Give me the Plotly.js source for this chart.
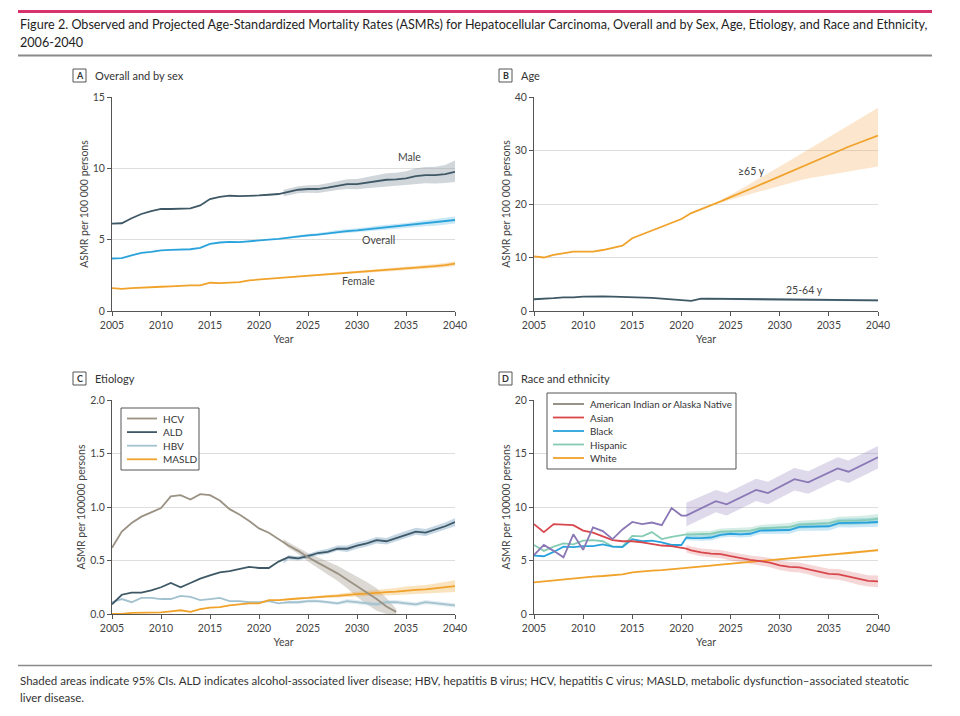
<!DOCTYPE html>
<html>
<head>
<meta charset="utf-8">
<script src="https://cdn.plot.ly/plotly-3.0.1.min.js"></script>
<style>html,body{margin:0;padding:0;background:#fff;}#chart{width:960px;height:716px;}</style>
</head>
<body>
<div id="chart"></div>
<script>
// ---------------- DATA ----------------
const YEARS = [2005,2006,2007,2008,2009,2010,2011,2012,2013,2014,2015,2016,2017,2018,2019,2020,2021,2022,2023,2024,2025,2026,2027,2028,2029,2030,2031,2032,2033,2034,2035,2036,2037,2038,2039,2040];

// Panel A: overall and by sex
const maleRate    = [6.12,6.15,6.5,6.8,7.0,7.15,7.15,7.18,7.2,7.4,7.85,8.0,8.08,8.05,8.05,8.1,8.15,8.2,8.35,8.5,8.55,8.55,8.65,8.8,8.9,8.9,9.0,9.12,9.2,9.22,9.3,9.45,9.52,9.52,9.6,9.75];
const overallRate = [3.68,3.7,3.9,4.08,4.15,4.25,4.28,4.3,4.33,4.42,4.7,4.8,4.85,4.83,4.9,4.95,5.0,5.05,5.15,5.25,5.3,5.35,5.45,5.55,5.6,5.65,5.72,5.82,5.87,5.92,5.98,6.08,6.15,6.2,6.28,6.38];
const femaleRate  = [1.6,1.55,1.6,1.65,1.68,1.7,1.73,1.78,1.8,1.8,1.98,1.95,2.0,2.03,2.15,2.2,2.3,2.33,2.38,2.43,2.48,2.53,2.58,2.63,2.68,2.73,2.78,2.83,2.88,2.93,2.98,3.03,3.08,3.15,3.22,3.32];
const BAND_YEARS = [2022.5,2023,2024,2025,2026,2027,2028,2029,2030,2031,2032,2033,2034,2035,2036,2037,2038,2039,2040];
const maleLo    = [8.05,8.12,8.25,8.28,8.27,8.35,8.48,8.56,8.54,8.6,8.7,8.75,8.75,8.8,8.9,8.95,8.93,8.97,9.05];
const maleHi    = [8.5,8.58,8.75,8.82,8.83,8.95,9.12,9.24,9.26,9.4,9.54,9.65,9.69,9.8,10.0,10.09,10.11,10.23,10.55];
const overallLo = [5.04,5.08,5.17,5.21,5.25,5.34,5.43,5.47,5.51,5.57,5.66,5.7,5.74,5.79,5.88,5.94,5.98,6.05,6.14];
const overallHi = [5.16,5.22,5.33,5.39,5.45,5.56,5.67,5.73,5.79,5.87,5.98,6.04,6.1,6.17,6.28,6.36,6.42,6.51,6.62];
const femaleLo  = [2.31,2.33,2.38,2.42,2.46,2.51,2.55,2.6,2.64,2.68,2.73,2.77,2.81,2.86,2.9,2.94,3.01,3.07,3.16];
const femaleHi  = [2.39,2.43,2.48,2.54,2.6,2.65,2.71,2.76,2.82,2.88,2.93,2.99,3.05,3.1,3.16,3.22,3.29,3.37,3.48];

// Panel B: age
const age65Rate = [10.2,10.0,10.5,10.8,11.1,11.1,11.1,11.4,11.8,12.2,13.6,14.3,15.1,15.7,16.5,17.2,18.3,19.0,19.7,20.5,21.3,22.0,22.8,23.6,24.4,25.2,26.0,26.8,27.6,28.4,29.1,29.9,30.7,31.4,32.1,32.8];
const age25Rate = [2.2,2.25,2.4,2.55,2.55,2.7,2.75,2.75,2.7,2.65,2.65,2.6,2.45,2.3,2.2,2.1,1.9,2.3,2.28,2.27,2.25,2.24,2.22,2.21,2.2,2.18,2.16,2.15,2.13,2.12,2.1,2.08,2.06,2.04,2.02,2.0];
const BAND_65_YEARS = [2024,2025,2026,2027,2028,2029,2030,2031,2032,2033,2034,2035,2036,2037,2038,2039,2040];
const age65Lo = [20.3,20.8,21.3,21.8,22.4,22.9,23.4,23.9,24.4,24.8,25.2,25.5,25.8,26.1,26.4,26.7,27.0];
const age65Hi = [20.7,21.7,22.7,23.8,24.9,25.9,27.0,28.1,29.2,30.3,31.4,32.5,33.6,34.7,35.8,36.9,38.0];
const age25Lo = [2.08,2.06,2.05,2.03,2.02,2.0,1.99,1.98,1.96,1.94,1.93,1.91,1.9,1.88,1.86,1.84,1.82,1.8,1.78];
const age25Hi = [2.5,2.48,2.47,2.45,2.44,2.42,2.41,2.4,2.38,2.36,2.35,2.33,2.32,2.3,2.28,2.26,2.24,2.22,2.2];

// Panel C: etiology
const hcvRate   = [0.62,0.77,0.85,0.91,0.95,0.99,1.10,1.11,1.07,1.12,1.11,1.06,0.98,0.93,0.87,0.80,0.76,0.70,0.64,0.59,0.53,0.48,0.43,0.38,0.32,0.26,0.20,0.14,0.07,0.02,null,null,null,null,null,null];
const aldRate   = [0.09,0.18,0.20,0.20,0.22,0.25,0.29,0.25,0.29,0.33,0.36,0.39,0.40,0.42,0.44,0.43,0.43,0.49,0.53,0.52,0.54,0.57,0.58,0.61,0.61,0.64,0.66,0.69,0.68,0.71,0.74,0.77,0.76,0.79,0.82,0.86];
const hbvRate   = [0.11,0.14,0.11,0.15,0.15,0.14,0.14,0.17,0.16,0.13,0.14,0.15,0.12,0.12,0.11,0.11,0.12,0.10,0.11,0.11,0.12,0.12,0.11,0.10,0.12,0.11,0.10,0.09,0.11,0.11,0.10,0.09,0.11,0.10,0.09,0.08];
const masldRate = [0.0,0.0,0.01,0.01,0.01,0.015,0.025,0.035,0.02,0.045,0.06,0.065,0.08,0.09,0.10,0.10,0.13,0.13,0.14,0.145,0.15,0.16,0.165,0.17,0.18,0.185,0.19,0.20,0.205,0.21,0.22,0.225,0.23,0.24,0.25,0.26];
const BAND_HCV_YEARS = [2022.5,2023,2024,2025,2026,2027,2028,2029,2030,2031,2032,2033,2034];
const hcvLo = [0.66,0.62,0.56,0.49,0.43,0.37,0.31,0.24,0.16,0.09,0.03,0.0,0.0];
const hcvHi = [0.70,0.67,0.62,0.57,0.53,0.49,0.45,0.40,0.35,0.30,0.24,0.15,0.05];
const aldLo   = [0.47,0.51,0.50,0.52,0.55,0.56,0.59,0.58,0.61,0.63,0.66,0.65,0.68,0.71,0.74,0.73,0.76,0.79,0.82];
const aldHi   = [0.51,0.55,0.54,0.56,0.59,0.61,0.64,0.64,0.67,0.69,0.72,0.71,0.745,0.775,0.805,0.795,0.825,0.855,0.895];
const hbvLo   = [0.09,0.095,0.095,0.105,0.105,0.095,0.085,0.10,0.09,0.08,0.07,0.09,0.09,0.08,0.07,0.09,0.08,0.07,0.06];
const hbvHi   = [0.11,0.125,0.125,0.135,0.135,0.125,0.115,0.14,0.13,0.12,0.11,0.13,0.13,0.12,0.11,0.13,0.12,0.11,0.10];
const masldLo = [0.125,0.133,0.137,0.14,0.148,0.151,0.154,0.161,0.163,0.166,0.172,0.174,0.177,0.182,0.185,0.188,0.194,0.2,0.205];
const masldHi = [0.135,0.147,0.153,0.16,0.172,0.179,0.186,0.199,0.207,0.214,0.228,0.236,0.243,0.258,0.265,0.272,0.286,0.3,0.315];

// Panel D: race and ethnicity
const OBS_D_YEARS  = [2005,2006,2007,2008,2009,2010,2011,2012,2013,2014,2015,2016,2017,2018,2019,2020];
const PROJ_D_YEARS = [2020.5,2021,2022,2023,2024,2025,2026,2027,2028,2029,2030,2031,2032,2033,2034,2035,2036,2037,2038,2039,2040];
const AIAN_PROJ_YEARS = [2020.5,2023.5,2024.6,2027.6,2028.8,2031.5,2032.9,2035.9,2037.0,2040];
const aianObs = [5.5,6.45,5.9,5.3,7.45,6.0,8.1,7.75,7.0,7.9,8.6,8.4,8.55,8.3,9.9,9.2];
const aianProj = [9.2,10.55,10.25,11.6,11.3,12.6,12.3,13.6,13.3,14.65];
const aianLo = [8.2,9.5,9.2,10.55,10.25,11.55,11.25,12.55,12.25,13.6];
const aianHi = [10.4,11.6,11.3,12.65,12.35,13.65,13.35,14.65,14.35,15.7];
const asianObs = [8.4,7.65,8.4,8.35,8.3,7.8,7.6,7.25,6.9,6.8,6.8,6.7,6.55,6.4,6.35,6.2];
const asianProj = [6.1,5.95,5.75,5.65,5.6,5.4,5.2,5.05,4.95,4.8,4.55,4.4,4.35,4.15,3.9,3.75,3.7,3.5,3.25,3.1,3.05];
const asianLo = [5.75,5.6,5.39,5.28,5.22,5.01,4.8,4.64,4.53,4.37,4.11,3.95,3.89,3.68,3.42,3.26,3.2,2.99,2.73,2.57,2.5];
const asianHi = [6.45,6.3,6.11,6.02,5.98,5.79,5.6,5.46,5.37,5.23,4.99,4.85,4.81,4.62,4.38,4.24,4.2,4.01,3.77,3.63,3.6];
const blackObs = [5.45,5.4,5.8,6.3,6.25,6.35,6.35,6.5,6.3,6.25,7.0,6.8,6.85,6.7,6.45,6.45];
const blackProj = [7.15,7.1,7.1,7.15,7.4,7.5,7.45,7.5,7.8,7.8,7.8,7.85,8.15,8.15,8.15,8.2,8.5,8.5,8.5,8.55,8.6];
const blackLo = [6.9,6.85,6.84,6.88,7.12,7.21,7.15,7.19,7.48,7.47,7.46,7.5,7.79,7.78,7.77,7.81,8.1,8.09,8.08,8.12,8.16];
const blackHi = [7.4,7.35,7.36,7.42,7.68,7.79,7.75,7.81,8.12,8.13,8.14,8.2,8.51,8.52,8.53,8.59,8.9,8.91,8.92,8.98,9.04];
const hispObs = [6.45,5.9,6.3,6.6,6.5,6.85,6.9,6.8,6.3,6.3,7.3,7.25,7.65,7.0,7.2,7.4];
const hispProj = [7.45,7.45,7.45,7.5,7.7,7.75,7.75,7.8,8.0,8.05,8.1,8.15,8.35,8.4,8.45,8.5,8.7,8.7,8.75,8.8,8.9];
const hispLo = [7.2,7.2,7.19,7.23,7.42,7.46,7.45,7.49,7.68,7.72,7.76,7.8,7.99,8.03,8.07,8.11,8.3,8.29,8.33,8.37,8.46];
const hispHi = [7.7,7.7,7.71,7.77,7.98,8.04,8.05,8.11,8.32,8.38,8.44,8.5,8.71,8.77,8.83,8.89,9.1,9.11,9.17,9.23,9.34];
const whiteObs = [2.95,3.05,3.15,3.25,3.35,3.45,3.5,3.55,3.6,3.7,3.9,4.0,4.05,4.1,4.2,4.3];
const whiteProj = [4.32,4.36,4.44,4.53,4.61,4.7,4.78,4.86,4.95,5.03,5.11,5.2,5.28,5.36,5.45,5.53,5.62,5.7,5.78,5.87,5.97];
const whiteLo = [4.28,4.32,4.39,4.48,4.56,4.64,4.72,4.8,4.88,4.96,5.04,5.12,5.2,5.27,5.36,5.43,5.52,5.59,5.67,5.75,5.84];
const whiteHi = [4.36,4.4,4.49,4.58,4.66,4.76,4.84,4.92,5.02,5.1,5.18,5.28,5.36,5.45,5.54,5.63,5.72,5.81,5.89,5.99,6.1];

// Text
const TITLE_1 = "Figure 2. Observed and Projected Age-Standardized Mortality Rates (ASMRs) for Hepatocellular Carcinoma, Overall and by Sex, Age, Etiology, and Race and Ethnicity,";
const TITLE_2 = "2006-2040";
const FOOT_1 = "Shaded areas indicate 95% CIs. ALD indicates alcohol-associated liver disease; HBV, hepatitis B virus; HCV, hepatitis C virus; MASLD, metabolic dysfunction–associated steatotic";
const FOOT_2 = "liver disease.";
const PANEL_LETTERS = ["A","B","C","D"];
const PANEL_TITLES = ["Overall and by sex","Age","Etiology","Race and ethnicity"];
const Y_TITLES = ["ASMR per 100 000 persons","ASMR per 100 000 persons","ASMR per 100000 persons","ASMR per 100000 persons"];
const LEGEND_C = ["HCV","ALD","HBV","MASLD"];
const LEGEND_D = ["American Indian or Alaska Native","Asian","Black","Hispanic","White"];

// ---------------- STYLE ----------------
const C = {
  slate:'#3e5866', blue:'#2aa3dc', orange:'#f0a22a', hcv:'#9a9283', hbv:'#a3c2cf',
  red:'#d8474c', green:'#86ccb4', purple:'#8a78b6', aianLegend:'#8b877b'
};
const FONT = 'Lato, "Open Sans", "Liberation Sans", sans-serif';
const W = 960, H = 716;
const px = x => x / W, py = y => 1 - y / H;

function line(ax, x, y, color, width) {
  return {type:'scatter', mode:'lines', x:x, y:y, xaxis:'x'+ax, yaxis:'y'+ax,
    line:{color:color, width:width||1.8}, hoverinfo:'skip', showlegend:false, connectgaps:false};
}
function band(ax, x, lo, hi, fill) {
  return {type:'scatter', mode:'lines', x:x.concat(x.slice().reverse()), y:hi.concat(lo.slice().reverse()),
    xaxis:'x'+ax, yaxis:'y'+ax, fill:'toself', fillcolor:fill, line:{width:0, color:'rgba(0,0,0,0)'},
    hoverinfo:'skip', showlegend:false};
}

const traces = [
  // A
  band('', BAND_YEARS, maleLo, maleHi, 'rgba(150,165,172,0.45)'),
  band('', BAND_YEARS, overallLo, overallHi, 'rgba(42,163,220,0.25)'),
  band('', BAND_YEARS, femaleLo, femaleHi, 'rgba(240,162,42,0.28)'),
  line('', YEARS, maleRate, C.slate),
  line('', YEARS, overallRate, C.blue),
  line('', YEARS, femaleRate, C.orange),
  // B
  band('2', BAND_65_YEARS, age65Lo, age65Hi, 'rgba(245,170,80,0.28)'),
  band('2', BAND_YEARS, age25Lo, age25Hi, 'rgba(120,150,170,0.35)'),
  line('2', YEARS, age65Rate, C.orange),
  line('2', YEARS, age25Rate, C.slate),
  // C
  band('3', BAND_HCV_YEARS, hcvLo, hcvHi, 'rgba(154,146,131,0.35)'),
  band('3', BAND_YEARS, aldLo, aldHi, 'rgba(90,140,180,0.35)'),
  band('3', BAND_YEARS, hbvLo, hbvHi, 'rgba(163,194,207,0.3)'),
  band('3', BAND_YEARS, masldLo, masldHi, 'rgba(240,162,42,0.3)'),
  line('3', YEARS, hbvRate, C.hbv),
  line('3', YEARS, masldRate, C.orange),
  line('3', YEARS, aldRate, C.slate),
  line('3', YEARS, hcvRate, C.hcv),
  // D
  band('4', AIAN_PROJ_YEARS, aianLo, aianHi, 'rgba(138,120,182,0.28)'),
  band('4', PROJ_D_YEARS, asianLo, asianHi, 'rgba(216,71,76,0.22)'),
  band('4', PROJ_D_YEARS, hispLo, hispHi, 'rgba(134,204,180,0.35)'),
  band('4', PROJ_D_YEARS, blackLo, blackHi, 'rgba(42,163,220,0.25)'),
  band('4', PROJ_D_YEARS, whiteLo, whiteHi, 'rgba(240,162,42,0.25)'),
  line('4', OBS_D_YEARS.concat(PROJ_D_YEARS), whiteObs.concat(whiteProj), C.orange),
  line('4', OBS_D_YEARS.concat(PROJ_D_YEARS), hispObs.concat(hispProj), C.green),
  line('4', OBS_D_YEARS.concat(PROJ_D_YEARS), blackObs.concat(blackProj), C.blue),
  line('4', OBS_D_YEARS.concat(PROJ_D_YEARS), asianObs.concat(asianProj), C.red),
  line('4', OBS_D_YEARS.concat(AIAN_PROJ_YEARS), aianObs.concat(aianProj), C.purple),
];

// ---------------- LAYOUT ----------------
const PLOT_X = [[112,455],[534,878],[112,455],[534,878]];
const PLOT_Y = [[97,311],[97,311],[400,614],[400,614]];
const Y_RANGES = [[0,15],[0,40],[0,2],[0,20]];
const Y_DTICK = [5,10,0.5,5];
const Y_FMT = ['','','.1f',''];

const layout = {
  width:W, height:H, margin:{l:0,r:0,t:0,b:0},
  paper_bgcolor:'#fff', plot_bgcolor:'#fff', showlegend:false,
  font:{family:FONT, size:10, color:'#444'},
  shapes:[], annotations:[]
};
const suffix = ['','2','3','4'];
for (let i=0;i<4;i++){
  const s = suffix[i];
  layout['xaxis'+s] = {
    domain:[px(PLOT_X[i][0]), px(PLOT_X[i][1])], anchor:'y'+s, range:[2005,2040],
    tickmode:'linear', tick0:2005, dtick:5, showgrid:false, zeroline:false,
    showline:true, linecolor:'#555', linewidth:1, ticks:'outside', ticklen:4, tickcolor:'#555',
    tickfont:{family:FONT,size:10.5,color:'#444'}, fixedrange:true,
    title:{text:'Year', font:{family:FONT,size:10.5,color:'#444'}, standoff:6}
  };
  layout['yaxis'+s] = {
    domain:[py(PLOT_Y[i][1]), py(PLOT_Y[i][0])], anchor:'x'+s, range:Y_RANGES[i],
    tickmode:'linear', tick0:0, dtick:Y_DTICK[i], tickformat:Y_FMT[i],
    showgrid:true, gridcolor:'#dedede', gridwidth:1, zeroline:false,
    showline:true, linecolor:'#555', linewidth:1, ticks:'outside', ticklen:4, tickcolor:'#555',
    tickfont:{family:FONT,size:10.5,color:'#444'}, fixedrange:true,
    title:{text:Y_TITLES[i], font:{family:FONT,size:10.5,color:'#444'}, standoff:2}
  };
  // panel letter box + title
  const bx = PLOT_X[i][0] - 39 + (i%2 ? 4 : 0);
  const by = PLOT_Y[i][0] - 28;
  layout.shapes.push({type:'rect', xref:'paper', yref:'paper', x0:px(bx), x1:px(bx+13), y0:py(by), y1:py(by+13),
    line:{color:'#555',width:1}, fillcolor:'#fff'});
  layout.annotations.push({xref:'paper',yref:'paper',x:px(bx+6.5),y:py(by+6.5),xanchor:'center',yanchor:'middle',
    text:'<b>'+PANEL_LETTERS[i]+'</b>', showarrow:false, font:{family:FONT,size:9,color:'#333'}});
  layout.annotations.push({xref:'paper',yref:'paper',x:px(bx+20),y:py(by+6.5),xanchor:'left',yanchor:'middle',
    text:PANEL_TITLES[i], showarrow:false, font:{family:FONT,size:11,color:'#333'}});
}

// series labels in A and B
const labelFont = {family:FONT,size:10.5,color:'#444'};
[['', 'Male', 2035.4, 10.8], ['', 'Overall', 2032.2, 4.95], ['', 'Female', 2030.2, 2.08],
 ['2', '≥65 y', 2027.1, 26.2], ['2', '25-64 y', 2032.5, 3.9]].forEach(a=>{
  layout.annotations.push({xref:'x'+a[0], yref:'y'+a[0], x:a[2], y:a[3], text:a[1], showarrow:false,
    xanchor:'center', yanchor:'middle', font:labelFont});
});

// header & footer rules and text
layout.shapes.push({type:'line',xref:'paper',yref:'paper',x0:px(18),x1:px(932),y0:py(11.5),y1:py(11.5),line:{color:'#d6336c',width:3}});
layout.shapes.push({type:'line',xref:'paper',yref:'paper',x0:px(18),x1:px(932),y0:py(55.5),y1:py(55.5),line:{color:'#8a8a8a',width:2}});
layout.shapes.push({type:'line',xref:'paper',yref:'paper',x0:px(18),x1:px(932),y0:py(665.5),y1:py(665.5),line:{color:'#8a8a8a',width:1.5}});
layout.annotations.push({xref:'paper',yref:'paper',x:px(18),y:py(25),xanchor:'left',yanchor:'middle',text:TITLE_1,showarrow:false,font:{family:FONT,size:12.6,color:'#1e1e1e'}});
layout.annotations.push({xref:'paper',yref:'paper',x:px(18),y:py(43),xanchor:'left',yanchor:'middle',text:TITLE_2,showarrow:false,font:{family:FONT,size:12.6,color:'#1e1e1e'}});
layout.annotations.push({xref:'paper',yref:'paper',x:px(18),y:py(680),xanchor:'left',yanchor:'middle',text:FOOT_1,showarrow:false,font:{family:FONT,size:11.5,color:'#333'}});
layout.annotations.push({xref:'paper',yref:'paper',x:px(18),y:py(697),xanchor:'left',yanchor:'middle',text:FOOT_2,showarrow:false,font:{family:FONT,size:11.5,color:'#333'}});

// manual legends
function addLegend(box, names, colors, y0, step, lx0, lx1, tx, fs) {
  layout.shapes.push({type:'rect',xref:'paper',yref:'paper',x0:px(box[0]),x1:px(box[1]),y0:py(box[2]),y1:py(box[3]),
    line:{color:'#555',width:1},fillcolor:'#fff'});
  names.forEach((n,k)=>{
    const yy = y0 + k*step;
    layout.shapes.push({type:'line',xref:'paper',yref:'paper',x0:px(lx0),x1:px(lx1),y0:py(yy),y1:py(yy),line:{color:colors[k],width:1.8}});
    layout.annotations.push({xref:'paper',yref:'paper',x:px(tx),y:py(yy),xanchor:'left',yanchor:'middle',text:n,showarrow:false,
      font:{family:FONT,size:fs,color:'#333'}});
  });
}
addLegend([121,199,408,470], LEGEND_C, [C.hcv,C.slate,C.hbv,C.orange], 418.5, 13.6, 127, 157, 161, 10);
addLegend([547,736,393,469], LEGEND_D, [C.aianLegend,C.red,C.blue,C.green,C.orange], 404, 13.5, 553, 584, 588, 9.8);

Plotly.newPlot('chart', traces, layout, {staticPlot:true, displayModeBar:false});
</script>
</body>
</html>
